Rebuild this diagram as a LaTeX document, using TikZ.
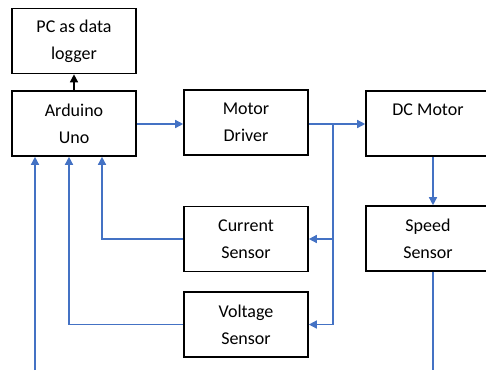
\documentclass[tikz,border=0pt]{standalone}
\usepackage{fontspec}
\setmainfont{Carlito}
\usetikzlibrary{arrows.meta}
\definecolor{wireblue}{HTML}{4472C4}

\begin{document}
\begin{tikzpicture}[x=1pt,y=-1pt,
	block/.style={shape=rectangle,draw=black,line width=1.6pt,minimum width=124pt,minimum height=65pt,inner sep=0pt,align=center,font=\fontsize{18}{27}\selectfont},
	wire/.style={draw=wireblue,line width=1.4pt},
	tip/.style={-{Triangle[length=8pt,width=8pt]}}]

	\useasboundingbox (0,0) rectangle (486,370);
	\clip (0,0) rectangle (486,370);

	\node[block] (pc)  at (74, 41)    {PC as data\\logger};
	\node[block] (ard) at (74, 123.5) {Arduino\\Uno};
	\node[block] (drv) at (246, 122.5) {Motor\\Driver};
	\node[block] (dcm) at (428, 123.5) {DC Motor\\\mbox{}};
	\node[block] (cur) at (246, 239)  {Current\\Sensor};
	\node[block] (vol) at (246, 324.5) {Voltage\\Sensor};
	\node[block] (spd) at (428, 238.5) {Speed\\Sensor};

	\coordinate (split) at (333, 124);
	\coordinate (inlet) at (35, 370);
	\coordinate (outlet) at (433, 370);

	\draw[tip, black, line width=1.4pt] (ard) -- (pc);
	\draw[tip, wire] (ard.east |- split) -- (drv.west |- split);
	\draw[tip, wire] (drv.east |- split) -- (dcm.west |- split);
	\draw[tip, wire] (split) |- (cur);
	\draw[tip, wire] (split) |- (vol);
	\draw[tip, wire] (cur) -| (ard.south -| 102, 0);
	\draw[tip, wire] (vol) -| (ard.south -| 69, 0);
	\draw[tip, wire] (inlet) -- (ard.south -| inlet);
	\draw[tip, wire] (dcm.south -| outlet) -- (spd.north -| outlet);
	\draw[wire] (spd.south -| outlet) -- (outlet);

	\end{tikzpicture}
\end{document}
